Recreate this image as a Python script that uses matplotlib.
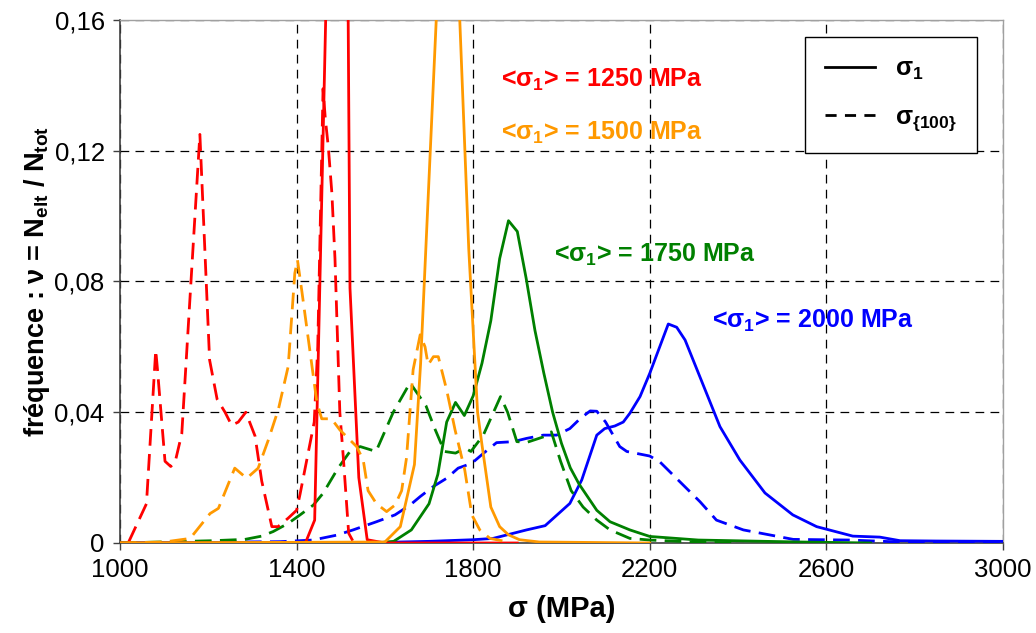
import matplotlib
matplotlib.use('Agg')
import matplotlib.pyplot as plt
from matplotlib.lines import Line2D
from matplotlib.ticker import FuncFormatter

plt.rcParams['font.family'] = ['Liberation Sans', 'DejaVu Sans']
plt.rcParams['mathtext.fontset'] = 'custom'
plt.rcParams['mathtext.rm'] = 'Liberation Sans'
plt.rcParams['mathtext.bf'] = 'Liberation Sans:bold'

# <sigma1> = 1250 MPa
red_s_x = [1000, 1420, 1441, 1505, 1521, 1541, 1560, 1600, 1900]
red_s_y = [0, 0, 0.007, 0.40, 0.078, 0.020, 0.001, 0, 0]
red_d_x = [1020, 1060, 1081, 1085, 1102, 1115, 1125, 1140, 1181, 1203, 1220, 1238, 1253, 1268,
           1285, 1306, 1321, 1344, 1358, 1381, 1400, 1408, 1440, 1448, 1460, 1465, 1472, 1480,
           1487, 1498, 1506, 1518, 1530]
red_d_y = [0.0004, 0.012, 0.059, 0.053, 0.025, 0.0234, 0.0248, 0.0334, 0.125, 0.056, 0.044, 0.040,
           0.036, 0.037, 0.040, 0.0327, 0.019, 0.005, 0.005, 0.0076, 0.010, 0.015, 0.037, 0.060,
           0.139, 0.130, 0.121, 0.107, 0.087, 0.040, 0.026, 0.003, 0.0]

# <sigma1> = 1500 MPa
orange_s_x = [1000, 1600, 1635, 1667, 1681, 1745, 1790, 1810, 1820, 1840, 1860, 1880, 1905, 1950, 2200]
orange_s_y = [0, 0.0003, 0.005, 0.024, 0.055, 0.245, 0.09, 0.04, 0.03, 0.011, 0.005, 0.0025, 0.001,
              0.0003, 0]
orange_d_x = [1000, 1100, 1159, 1204, 1223, 1260, 1287, 1313, 1336, 1359, 1381, 1396, 1402, 1412,
              1446, 1457, 1479, 1498, 1536, 1551, 1562, 1581, 1604, 1623, 1638, 1649, 1664, 1680,
              1691, 1698, 1710, 1721, 1740, 1759, 1781, 1797, 1815, 1838, 1880]
orange_d_y = [0, 0.0003, 0.0014, 0.009, 0.0106, 0.0229, 0.0198, 0.0229, 0.0315, 0.041, 0.054, 0.0825,
              0.0866, 0.077, 0.043, 0.038, 0.038, 0.0346, 0.0295, 0.0254, 0.016, 0.012, 0.0096,
              0.0116, 0.016, 0.026, 0.053, 0.0637, 0.060, 0.0545, 0.057, 0.057, 0.0468, 0.0346,
              0.0223, 0.0086, 0.004, 0.0014, 0.0003]

# <sigma1> = 1750 MPa
green_s_x = [1000, 1580, 1620, 1660, 1700, 1720, 1740, 1760, 1780, 1800, 1820, 1840, 1860, 1880, 1900,
             1920, 1940, 1960, 1980, 2000, 2020, 2040, 2060, 2080, 2110, 2155, 2200, 2310, 2540, 2700]
green_s_y = [0, 0, 0.0005, 0.004, 0.012, 0.021, 0.037, 0.043, 0.039, 0.045, 0.055, 0.068, 0.087, 0.0986,
             0.0953, 0.081, 0.065, 0.052, 0.040, 0.0305, 0.023, 0.018, 0.014, 0.010, 0.0065, 0.004,
             0.002, 0.0009, 0.0003, 0]
green_d_x = [1000, 1210, 1283, 1321, 1347, 1381, 1408, 1438, 1460, 1494, 1521, 1544, 1580, 1619, 1657,
             1693, 1713, 1735, 1760, 1782, 1795, 1823, 1862, 1878, 1899, 1922, 1960, 1977, 1998, 2022,
             2049, 2080, 2110, 2155, 2200, 2300, 2400]
green_d_y = [0, 0.0007, 0.0011, 0.0021, 0.0035, 0.006, 0.0086, 0.0116, 0.0152, 0.0229, 0.028, 0.0295,
             0.028, 0.040, 0.049, 0.042, 0.035, 0.028, 0.0275, 0.029, 0.028, 0.033, 0.0448, 0.040,
             0.031, 0.0308, 0.0325, 0.034, 0.025, 0.016, 0.011, 0.007, 0.004, 0.0014, 0.0009,
             0.0003, 0]

# <sigma1> = 2000 MPa
blue_s_x = [1000, 1600, 1700, 1800, 1845, 1921, 1963, 2019, 2046, 2080, 2098, 2121, 2140, 2155, 2178,
            2200, 2242, 2261, 2280, 2359, 2404, 2461, 2524, 2578, 2660, 2721, 2767, 2850, 3000]
blue_s_y = [0, 0.0002, 0.0005, 0.001, 0.0014, 0.004, 0.0053, 0.0121, 0.0193, 0.033, 0.035, 0.0358,
            0.037, 0.0397, 0.0448, 0.0519, 0.067, 0.066, 0.0621, 0.0356, 0.0254, 0.0153, 0.0086,
            0.005, 0.0021, 0.0018, 0.0007, 0.0006, 0.0005]
blue_d_x = [1000, 1362, 1437, 1491, 1528, 1581, 1623, 1657, 1680, 1710, 1740, 1766, 1797, 1823, 1853,
            1891, 1921, 1959, 1989, 2019, 2042, 2065, 2080, 2100, 2132, 2148, 2200, 2223, 2314, 2351,
            2412, 2525, 2653, 2767, 3000]
blue_d_y = [0, 0.0004, 0.0009, 0.0024, 0.004, 0.0065, 0.0086, 0.0116, 0.0142, 0.0173, 0.0198, 0.0229,
            0.0244, 0.0274, 0.0307, 0.031, 0.032, 0.033, 0.033, 0.035, 0.038, 0.0404, 0.0403, 0.037,
            0.0295, 0.028, 0.0266, 0.0248, 0.0126, 0.007, 0.004, 0.0011, 0.0009, 0.0003, 0]

labels = ['<σ$_\\mathbf{1}$> = 1250 MPa', '<σ$_\\mathbf{1}$> = 1500 MPa',
          '<σ$_\\mathbf{1}$> = 1750 MPa', '<σ$_\\mathbf{1}$> = 2000 MPa']
label_pos = [(1864, 0.1395), (1864, 0.1233), (1982, 0.0859), (2340, 0.0658)]
colors = ['#ff0000', '#ff9900', '#008000', '#0000ff']

x_ticks = [1000, 1400, 1800, 2200, 2600, 3000]
y_ticks = [0, 0.04, 0.08, 0.12, 0.16]

fig = plt.figure(figsize=(10.36, 6.33), dpi=100)
ax = fig.add_axes([0.1158, 0.1422, 0.8523, 0.8262])

lw = 2.0
dash = (6, 3)
series = [
    (blue_d_x, blue_d_y, blue_s_x, blue_s_y, colors[3]),
    (green_d_x, green_d_y, green_s_x, green_s_y, colors[2]),
    (red_d_x, red_d_y, red_s_x, red_s_y, colors[0]),
    (orange_d_x, orange_d_y, orange_s_x, orange_s_y, colors[1]),
]
for dx, dy, sx, sy, c in series:
    ax.plot(dx, dy, color=c, lw=lw, ls=(0, dash), zorder=3)
    ax.plot(sx, sy, color=c, lw=lw, zorder=3)

for txt, (tx, ty), c in zip(labels, label_pos, colors):
    ax.text(tx, ty, txt, color=c, fontsize=18, fontweight='bold', ha='left', va='baseline', zorder=5)

ax.set_xlim(1000, 3000)
ax.set_ylim(0, 0.16)
ax.set_xticks(x_ticks)
ax.set_yticks(y_ticks)
ax.yaxis.set_major_formatter(FuncFormatter(lambda v, p: '0' if v == 0 else f'{v:.2f}'.replace('.', ',')))
ax.tick_params(labelsize=18.5, direction='out', length=5, width=1, color='#404040', pad=6)
ax.grid(True, color='black', lw=0.9, ls=(0, (7, 5)), zorder=1)

for side in ['left', 'bottom']:
    ax.spines[side].set_color('#404040')
    ax.spines[side].set_linewidth(1.2)
for side in ['top', 'right']:
    ax.spines[side].set_color('#a0a0a0')
    ax.spines[side].set_linewidth(1.0)

ax.set_xlabel('σ (MPa)', fontsize=21, fontweight='bold', labelpad=9)
ax.set_ylabel('fréquence : ν = N$_\\mathbf{elt}$ / N$_\\mathbf{tot}$', fontsize=19.5, fontweight='bold', labelpad=2)

handles = [Line2D([], [], color='black', lw=2),
           Line2D([], [], color='black', lw=2, ls=(0, (4, 3)))]
leg = ax.legend(handles, ['σ$_\\mathbf{1}$', 'σ$_\\mathbf{\\{100\\}}$'], loc='upper left',
                bbox_to_anchor=(0.776, 0.9675), prop={'size': 18, 'weight': 'bold'},
                frameon=True, fancybox=False, edgecolor='black', framealpha=1,
                handlelength=2.0, handletextpad=0.8, labelspacing=0.9, borderpad=0.8,
                borderaxespad=0)
leg.get_frame().set_linewidth(1.0)
leg.set_zorder(6)

fig.savefig('out.png', dpi=100)
